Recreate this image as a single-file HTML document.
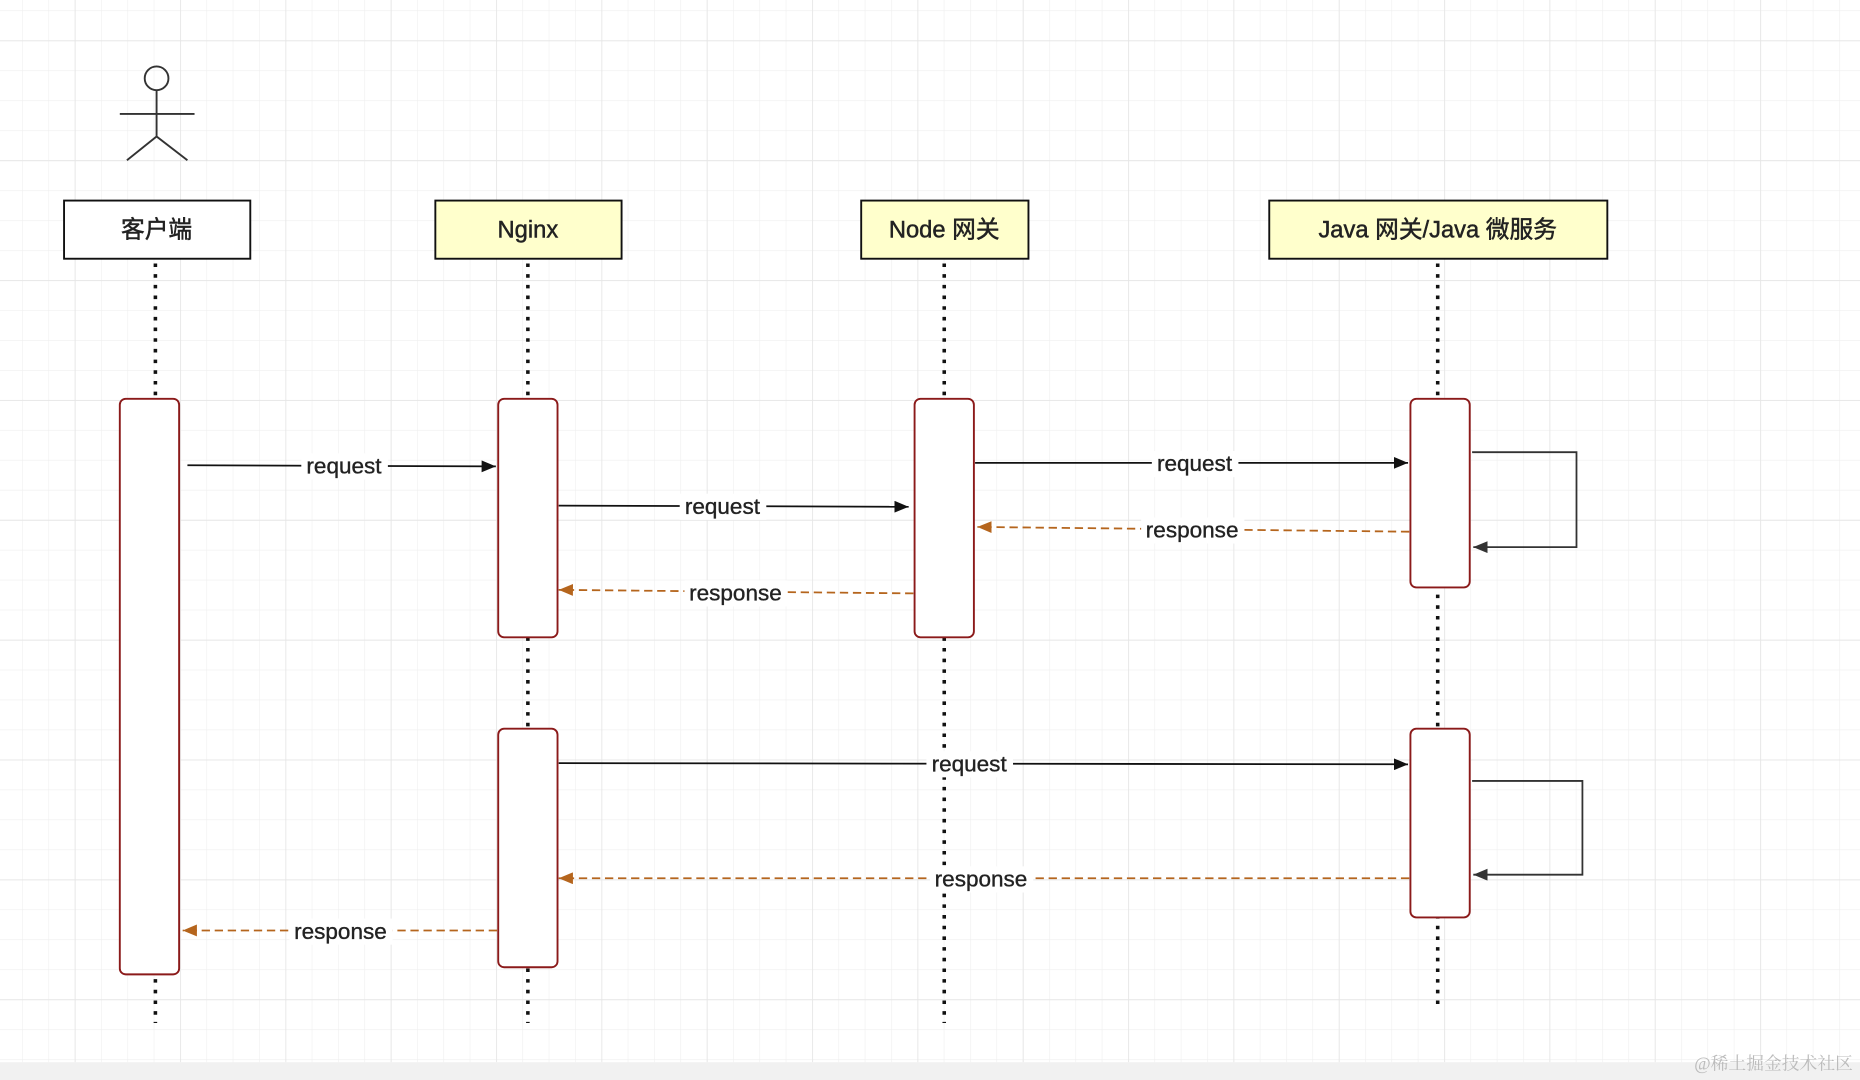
<!DOCTYPE html>
<html><head><meta charset="utf-8"><style>html,body{margin:0;padding:0;background:#fff;}svg{display:block}</style></head>
<body>
<svg width="1860" height="1080" viewBox="0 0 1568 910" preserveAspectRatio="none" xmlns="http://www.w3.org/2000/svg" font-family="'Liberation Sans','Noto Sans CJK SC',sans-serif">
<defs>
<pattern id="minor" x="63" y="34" width="22.2" height="25.25" patternUnits="userSpaceOnUse">
<path d="M0 0V25.25M0 0H22.2" stroke="#efefef" stroke-width="1" fill="none"/>
</pattern>
<pattern id="major" x="63" y="34" width="88.8" height="101" patternUnits="userSpaceOnUse">
<path d="M0 0V101M0 0H88.8" stroke="#e6e6e6" stroke-width="1.4" fill="none"/>
</pattern>
<marker id="ab" markerWidth="12" markerHeight="10" refX="12" refY="5" orient="auto" markerUnits="userSpaceOnUse"><path d="M0 0L12 5L0 10z" fill="#111"/></marker>
<marker id="ad" markerWidth="12" markerHeight="10" refX="12" refY="5" orient="auto" markerUnits="userSpaceOnUse"><path d="M0 0L12 5L0 10z" fill="#333"/></marker>
<marker id="ao" markerWidth="12" markerHeight="10" refX="12" refY="5" orient="auto" markerUnits="userSpaceOnUse"><path d="M0 0L12 5L0 10z" fill="#b5651d"/></marker>
</defs>
<rect width="1568" height="910" fill="#fff"/>
<rect width="1568" height="895" fill="url(#minor)"/>
<rect width="1568" height="895" fill="url(#major)"/>
<rect y="895" width="1568" height="15" fill="#f1f1f1"/>

<g stroke="#333" stroke-width="1.6" fill="none">
<circle cx="132" cy="66" r="10"/>
<path d="M132 76V115M101 96H164M107 135L132 115L158 135"/>
</g>

<g font-size="20" text-anchor="middle" fill="#222" stroke="#222" stroke-width="0.4">
<rect x="54" y="169" width="157" height="49" fill="#fff" stroke="#111" stroke-width="1.6"/>
<text x="132" y="200">客户端</text>
<rect x="367" y="169" width="157" height="49" fill="#ffffcc" stroke="#111" stroke-width="1.6"/>
<text x="445" y="200">Nginx</text>
<rect x="726" y="169" width="141" height="49" fill="#ffffcc" stroke="#111" stroke-width="1.6"/>
<text x="796" y="200">Node 网关</text>
<rect x="1070" y="169" width="285" height="49" fill="#ffffcc" stroke="#111" stroke-width="1.6"/>
<text x="1212" y="200">Java 网关/Java 微服务</text>
</g>

<g stroke="#111" stroke-width="3" stroke-dasharray="3 6">
<path d="M131 222V862M445 222V862M796 222V862M1212 222V852"/>
</g>

<g fill="#fff" stroke="#8b1a1a" stroke-width="1.6">
<rect x="101" y="336" width="50" height="485" rx="5"/>
<rect x="420" y="336" width="50" height="201" rx="5"/>
<rect x="420" y="614" width="50" height="201" rx="5"/>
<rect x="771" y="336" width="50" height="201" rx="5"/>
<rect x="1189" y="336" width="50" height="159" rx="5"/>
<rect x="1189" y="614" width="50" height="159" rx="5"/>
</g>

<g stroke="#111" stroke-width="1.5" fill="none">
<path d="M158 392L418 393" marker-end="url(#ab)"/>
<path d="M471 426L766 427" marker-end="url(#ab)"/>
<path d="M822 390L1187 390" marker-end="url(#ab)"/>
<path d="M471 643L1187 644" marker-end="url(#ab)"/>
</g>
<g stroke="#333" stroke-width="1.5" fill="none">
<path d="M1241 381H1329V461H1242" marker-end="url(#ad)"/>
<path d="M1241 658H1334V737H1242" marker-end="url(#ad)"/>
</g>
<g stroke="#b5651d" stroke-width="1.5" fill="none" stroke-dasharray="7 4">
<path d="M1188 448L824 444" marker-end="url(#ao)"/>
<path d="M770 500L471 497" marker-end="url(#ao)"/>
<path d="M1188 740L471 740" marker-end="url(#ao)"/>
<path d="M419 784L154 784" marker-end="url(#ao)"/>
</g>

<g font-size="19" fill="#222" text-anchor="middle" stroke="#222" stroke-width="0.3">
<rect x="254" y="382" width="73" height="22" fill="#fff" stroke="none"/><text x="290" y="399">request</text>
<rect x="573" y="416" width="73" height="22" fill="#fff" stroke="none"/><text x="609" y="433">request</text>
<rect x="971" y="380" width="73" height="22" fill="#fff" stroke="none"/><text x="1007" y="397">request</text>
<rect x="781" y="633" width="73" height="22" fill="#fff" stroke="none"/><text x="817" y="650">request</text>
<rect x="962" y="436" width="87" height="22" fill="#fff" stroke="none"/><text x="1005" y="453">response</text>
<rect x="577" y="489" width="87" height="22" fill="#fff" stroke="none"/><text x="620" y="506">response</text>
<rect x="784" y="730" width="87" height="22" fill="#fff" stroke="none"/><text x="827" y="747">response</text>
<rect x="244" y="774" width="87" height="22" fill="#fff" stroke="none"/><text x="287" y="791">response</text>
</g>
<text x="1562" y="901" font-size="15" fill="#bbb" text-anchor="end" font-family="'Liberation Serif','Noto Serif CJK SC',serif">@稀土掘金技术社区</text>
</svg>
</body></html>
